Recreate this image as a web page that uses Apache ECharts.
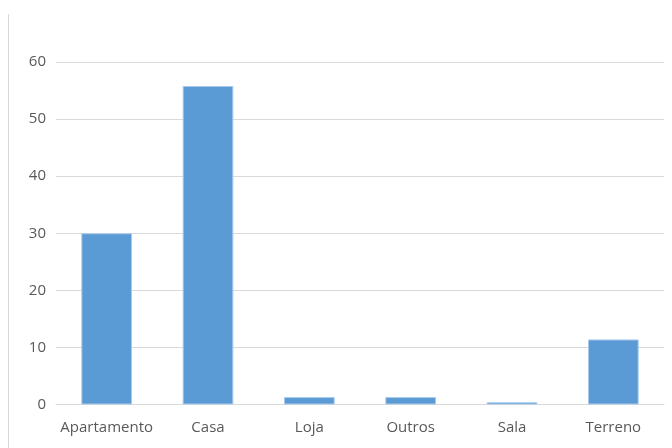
<!DOCTYPE html>
<html><head><meta charset="utf-8">
<script src="https://cdn.jsdelivr.net/npm/echarts@6/dist/echarts.min.js"></script>
<style>html,body{margin:0;padding:0;background:#fff}#c{width:672px;height:448px}</style>
</head><body><div id="c"></div>
<script>
const categories = ['Apartamento','Casa','Loja','Outros','Sala','Terreno'];
const values = [30.0, 55.8, 1.3, 1.3, 0.4, 11.4];
const yTicks = [0, 10, 20, 30, 40, 50, 60];

const chart = echarts.init(document.getElementById('c'), null, {renderer:'canvas'});
chart.setOption({
  animation:false,
  backgroundColor:'#fff',
  graphic:[{type:'line', shape:{x1:8.5,y1:14,x2:8.5,y2:448}, style:{stroke:'#d9d9d9',lineWidth:1}}],
  grid:{left:56,right:8,top:62,bottom:43.5,containLabel:false},
  xAxis:{type:'category',data:categories,
    axisLine:{lineStyle:{color:'#d9d9d9',width:1}},axisTick:{show:false},
    axisLabel:{interval:0,color:'#595959',fontFamily:'Open Sans',fontSize:15,margin:16}},
  yAxis:{type:'value',min:yTicks[0],max:yTicks[yTicks.length-1],interval:10,
    axisLine:{show:false},axisTick:{show:false},
    splitLine:{lineStyle:{color:'#d9d9d9',width:1}},
    axisLabel:{color:'#595959',fontFamily:'Open Sans',fontSize:15,margin:10}},
  series:[{type:'bar',data:values,barWidth:'50%',
    itemStyle:{color:'#5b9bd5',borderColor:'#a9c9ea',borderWidth:1}}]
});
</script></body></html>
